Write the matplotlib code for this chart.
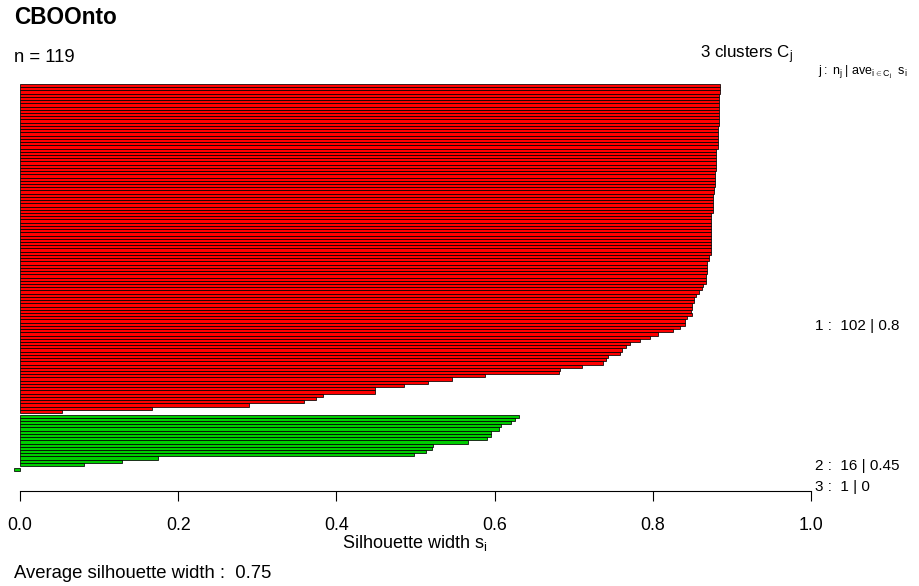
import matplotlib
matplotlib.use("Agg")
import matplotlib.pyplot as plt
import numpy as np

plt.rcParams['font.family'] = ['Liberation Sans', 'DejaVu Sans']
plt.rcParams['mathtext.fontset'] = 'custom'
plt.rcParams['mathtext.rm'] = 'Liberation Sans'
plt.rcParams['mathtext.it'] = 'Liberation Sans'

title = "CBOOnto"
n_total = 119
avg_width = 0.75

cluster1_sil = [0.885, 0.885, 0.885, 0.884, 0.884, 0.884, 0.884, 0.884, 0.884, 0.884,
                0.884, 0.884, 0.884,
                0.882, 0.882, 0.882, 0.882, 0.882, 0.882, 0.882,
                0.880, 0.880, 0.880, 0.880, 0.880, 0.880, 0.880,
                0.879, 0.879, 0.879, 0.879, 0.879,
                0.877, 0.877,
                0.876, 0.876, 0.876, 0.876, 0.876, 0.876,
                0.874, 0.874, 0.874, 0.874, 0.874, 0.874, 0.874, 0.874, 0.874, 0.874,
                0.873, 0.873, 0.873,
                0.871, 0.871,
                0.869, 0.869, 0.869, 0.869,
                0.867, 0.867, 0.867,
                0.864, 0.862, 0.859, 0.855, 0.852, 0.852, 0.850, 0.850, 0.848,
                0.849, 0.843, 0.841, 0.841, 0.834, 0.826, 0.806, 0.796, 0.784, 0.771,
                0.766, 0.761, 0.759, 0.743, 0.741, 0.737, 0.710, 0.683, 0.681, 0.588,
                0.546, 0.516, 0.485, 0.449, 0.449, 0.383, 0.374, 0.359, 0.289, 0.167,
                0.053]
cluster2_sil = [0.631, 0.626, 0.621, 0.608, 0.606, 0.596, 0.596, 0.590, 0.567, 0.522,
                0.521, 0.513, 0.498, 0.174, 0.129, 0.081]
cluster3_sil = [-0.008]

cluster_labels = ["1 :  102 | 0.8", "2 :  16 | 0.45", "3 :  1 | 0"]
cluster_colors = ["#FF0000", "#00CD00", "#00CD00"]
x_ticks = [0.0, 0.2, 0.4, 0.6, 0.8, 1.0]
x_ticklabels = ["0.0", "0.2", "0.4", "0.6", "0.8", "1.0"]

W, H = 920, 586
fig = plt.figure(figsize=(W / 100, H / 100), dpi=100)

# pixel geometry
x0_px, x1_px = 20.0, 811.0
sc = x1_px - x0_px
xlim = (-0.02, 1.12)
top_px, bot_px = 84.0, 471.0
unit = (bot_px - top_px) / 120.0
axis_px = 491.0
ylim_top = -1.0
ylim_bot = (axis_px - top_px) / unit

left_px = x0_px + xlim[0] * sc
right_px = x0_px + xlim[1] * sc
ax_top_px = top_px + ylim_top * unit
ax = fig.add_axes([left_px / W, 1 - axis_px / H, (right_px - left_px) / W,
                   (axis_px - ax_top_px) / H])
ax.set_xlim(*xlim)
ax.set_ylim(ylim_bot, ylim_top)

clusters = [cluster1_sil, cluster2_sil, cluster3_sil]
pos = 0.0
for k, vals in enumerate(clusters):
    if k > 0:
        pos += 0.5
    ys = pos + np.arange(len(vals)) + 0.5
    ax.barh(ys, vals, height=1.0, color=cluster_colors[k], edgecolor='black',
            linewidth=0.55)
    pos += len(vals)

for spine in ['top', 'right', 'left']:
    ax.spines[spine].set_visible(False)
ax.spines['bottom'].set_bounds(0, 1)
ax.spines['bottom'].set_linewidth(0.8)
ax.set_yticks([])
ax.set_xticks(x_ticks)
ax.set_xticklabels(x_ticklabels, fontsize=12.8)
ax.tick_params(axis='x', length=7, width=0.8, pad=12)

# cluster labels (data coordinates in bar units)
label_u = [(326 - top_px) / unit, (466 - top_px) / unit, (487 - top_px) / unit]
for lab, u in zip(cluster_labels, label_u):
    ax.text(1.005, u, lab, fontsize=11, ha='left', va='center', clip_on=False)

def fx(px):
    return px / W

def fy(py):
    return 1 - py / H

fig.text(fx(14), fy(18), title, fontsize=16.3, fontweight='bold', ha='left', va='center')
fig.text(fx(14), fy(58), "n = %d" % n_total, fontsize=13.3, ha='left', va='center')
fig.text(fx(700), fy(55), r"3 clusters $\mathrm{C_j}$", fontsize=12.2, ha='left', va='center')
fig.text(fx(818), fy(72), r"$\mathrm{j:\ n_j\ |\ ave_{i\in C_j}\ \ s_i}$", fontsize=9,
         ha='left', va='center')
fig.text(fx(415), fy(543), r"Silhouette width $\mathrm{s_i}$", fontsize=13,
         ha='center', va='center')
fig.text(fx(14), fy(573), "Average silhouette width :  %.2f" % avg_width, fontsize=13.3,
         ha='left', va='center')

fig.savefig("out.png", dpi=100)
